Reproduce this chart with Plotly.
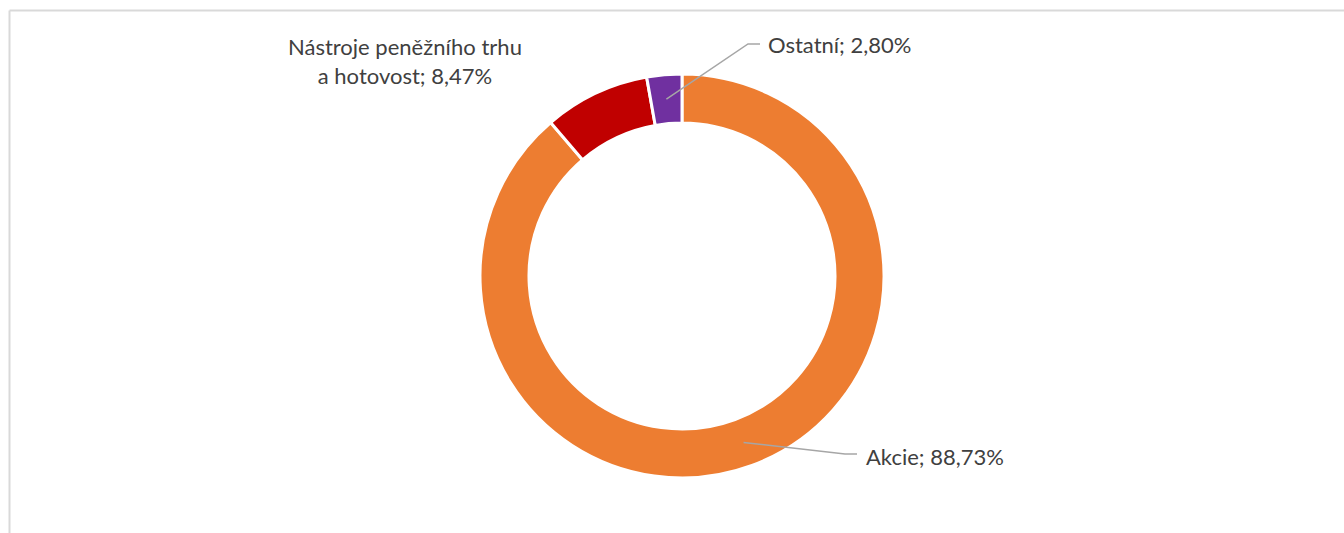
import math
import plotly.graph_objects as go

# ---- data ----
categories = ["Akcie", "Nástroje peněžního trhu a hotovost", "Ostatní"]
label_text = ["Akcie; 88,73%", "Nástroje peněžního trhu<br>a hotovost; 8,47%", "Ostatní; 2,80%"]
values = [88.73, 8.47, 2.80]
colors = ["#ED7D31", "#C00000", "#7030A0"]

# ---- layout geometry (pixels) ----
W, H = 1344, 533
cx, cy = 682, 276
r_out, r_in = 202, 153
hole = r_in / r_out
r_mid = (r_out + r_in) / 2

def px(x):
    return x / W

def py(y):
    return 1 - y / H

fig = go.Figure(go.Pie(
    labels=categories,
    values=values,
    sort=False,
    direction="clockwise",
    rotation=0,
    hole=hole,
    marker=dict(colors=colors, line=dict(color="white", width=3)),
    textinfo="none",
    hoverinfo="label+percent",
    showlegend=False,
    domain=dict(x=[px(cx - r_out), px(cx + r_out)], y=[py(cy + r_out), py(cy - r_out)]),
))

# mid-angle anchors from data
total = sum(values)
anchors = []
cum = 0
for v in values:
    mid = (cum + v / 2) / total * 2 * math.pi
    anchors.append((cx + r_mid * math.sin(mid), cy - r_mid * math.cos(mid)))
    cum += v

line_col = "#A6A6A6"
font = dict(family="Lato, 'Open Sans', sans-serif", size=22, color="#404040")

shapes = []
annotations = []

# Akcie label with leader
ax, ay = anchors[0]
elbow = (845, 454)
end = (857, 454)
shapes.append(dict(type="path", xref="paper", yref="paper",
                   path=f"M {px(ax)},{py(ay)} L {px(elbow[0])},{py(elbow[1])} L {px(end[0])},{py(end[1])}",
                   line=dict(color=line_col, width=1.5)))
annotations.append(dict(x=px(864), y=py(456), xref="paper", yref="paper", text=label_text[0],
                        showarrow=False, xanchor="left", yanchor="middle", font=font))

# Ostatní label with leader
ox, oy = anchors[2]
elbow = (748, 44)
end = (760, 44)
shapes.append(dict(type="path", xref="paper", yref="paper",
                   path=f"M {px(ox)},{py(oy)} L {px(elbow[0])},{py(elbow[1])} L {px(end[0])},{py(end[1])}",
                   line=dict(color=line_col, width=1.5)))
annotations.append(dict(x=px(766), y=py(45), xref="paper", yref="paper", text=label_text[2],
                        showarrow=False, xanchor="left", yanchor="middle", font=font))

# Nástroje label (no leader)
annotations.append(dict(x=px(405), y=py(61), xref="paper", yref="paper", text=label_text[1],
                        showarrow=False, xanchor="center", yanchor="middle", align="center", font=font))

# chart-area border (top and left edges visible)
shapes.append(dict(type="line", xref="paper", yref="paper", x0=px(9.5), x1=1.01, y0=py(10.5), y1=py(10.5),
                   line=dict(color="#D9D9D9", width=2)))
shapes.append(dict(type="line", xref="paper", yref="paper", x0=px(9.5), x1=px(9.5), y0=py(10.5), y1=-0.01,
                   line=dict(color="#D9D9D9", width=2)))

fig.update_layout(
    width=W, height=H,
    margin=dict(l=0, r=0, t=0, b=0),
    paper_bgcolor="white",
    plot_bgcolor="white",
    shapes=shapes,
    annotations=annotations,
)

fig.write_html("out.html",
               config={"displayModeBar": False},
               post_script="document.body.style.margin='0';document.body.style.overflow='hidden';")
